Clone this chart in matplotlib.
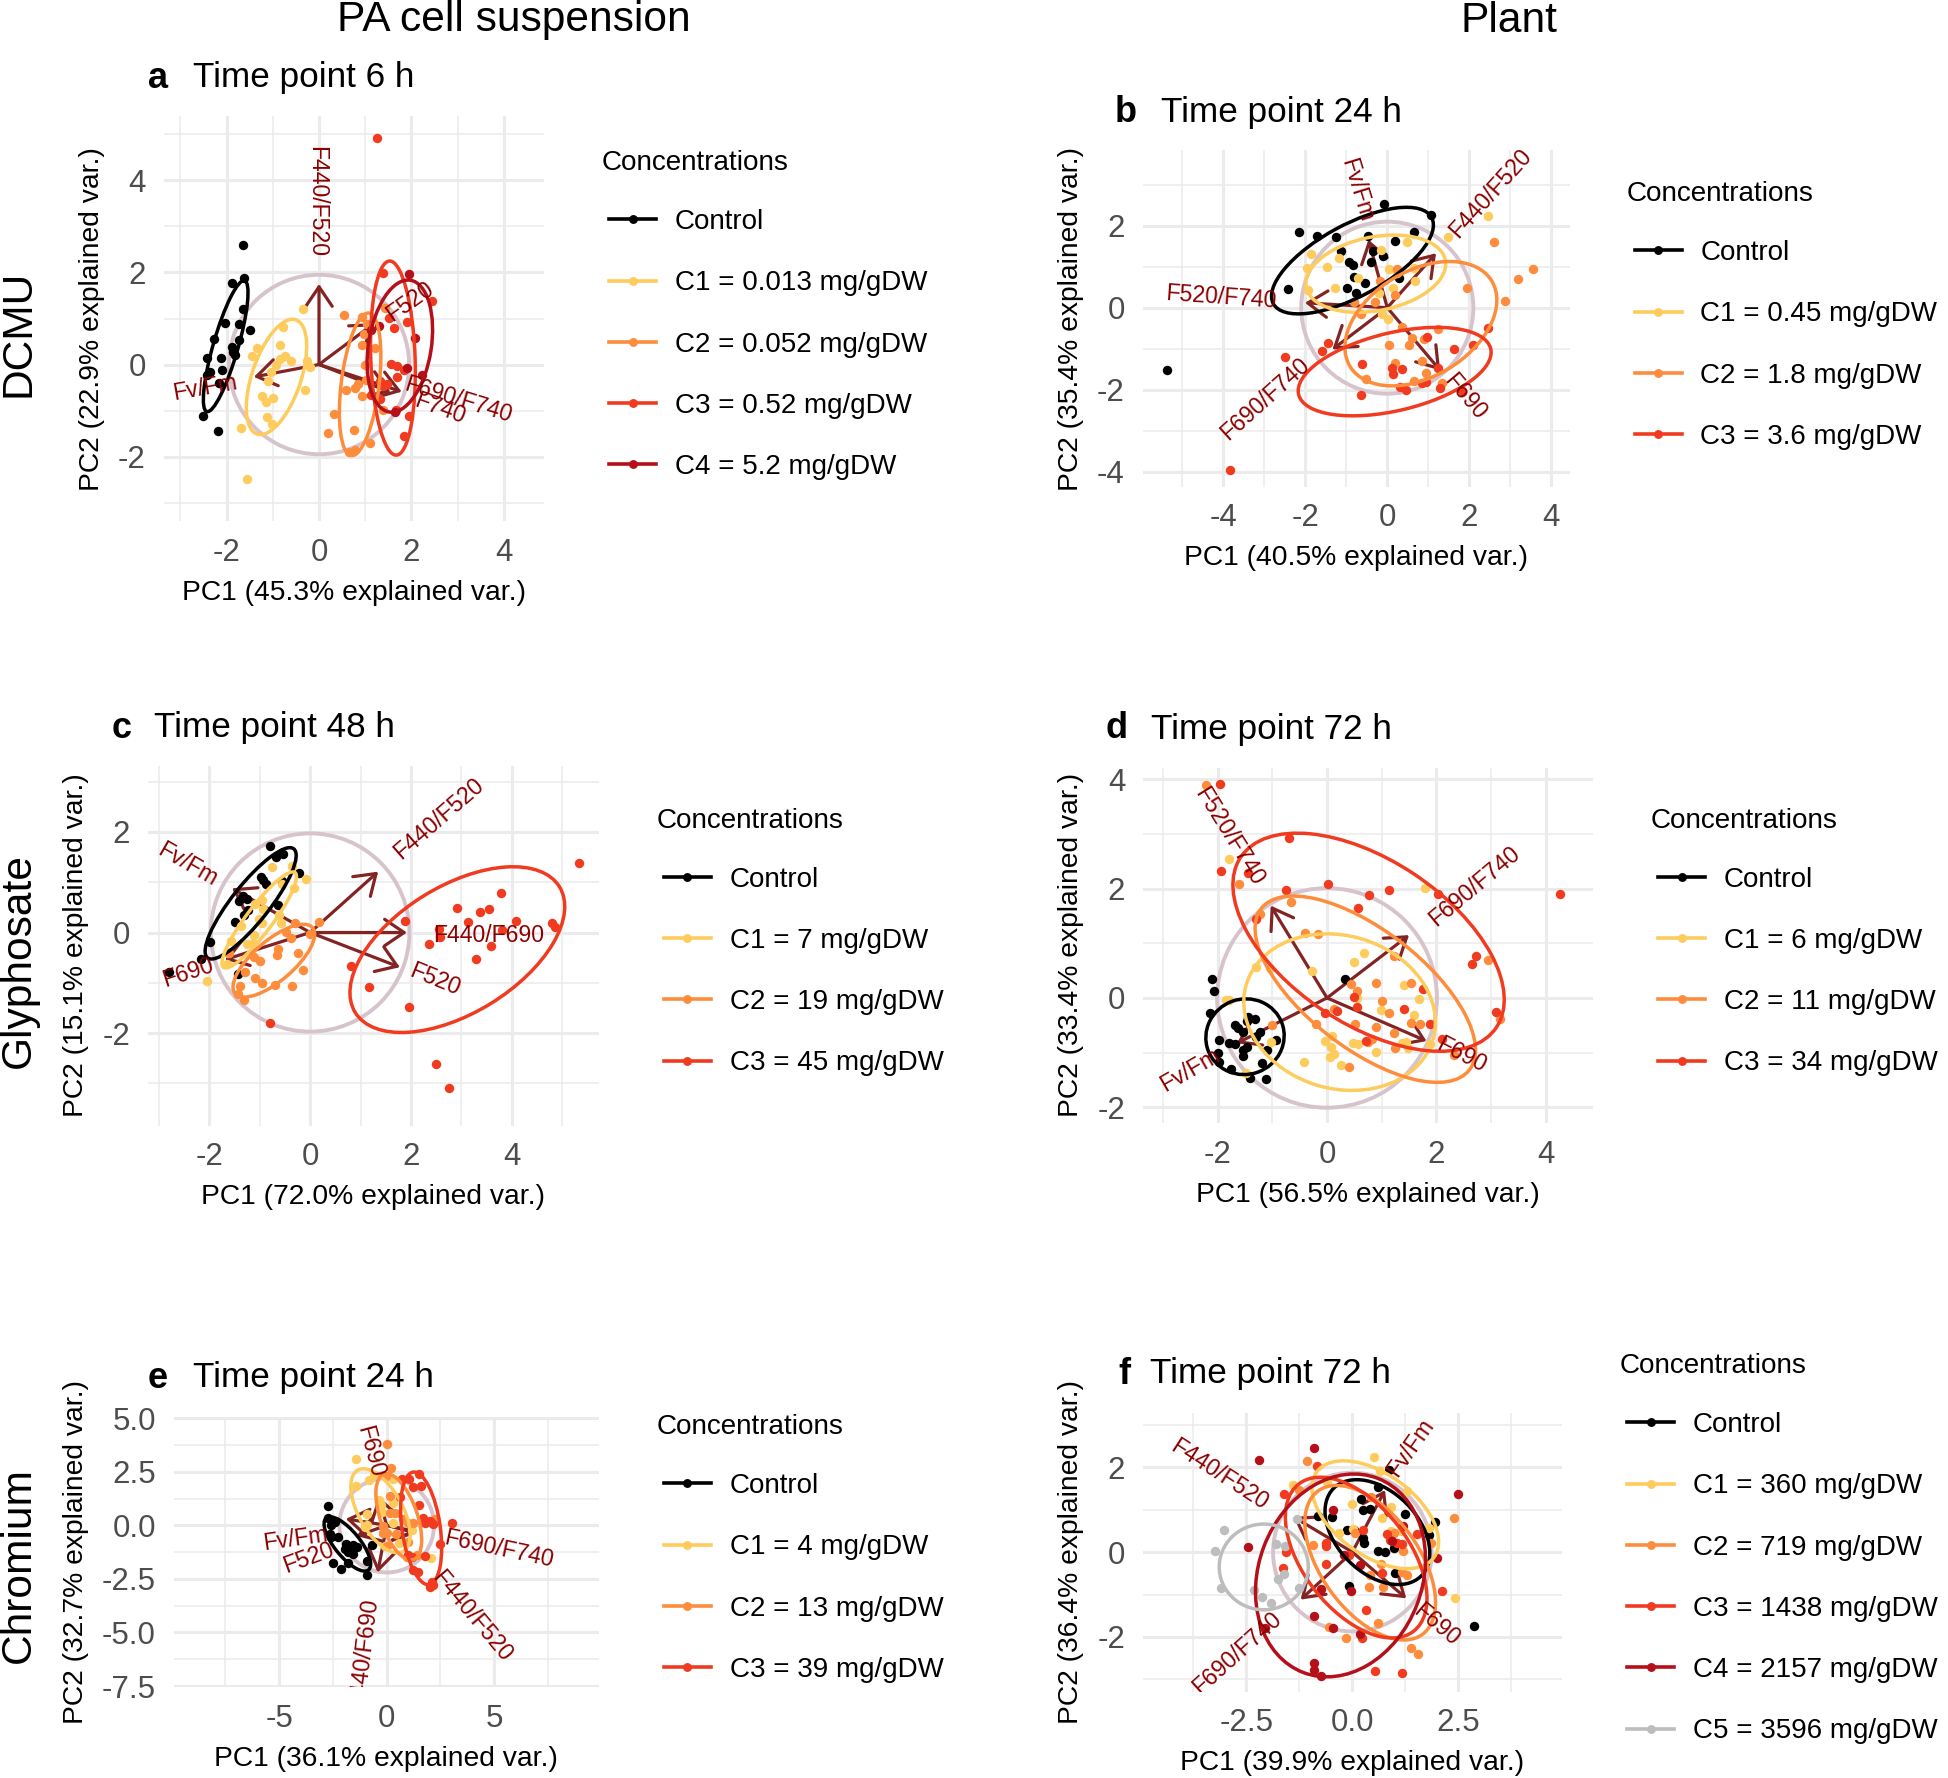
import matplotlib
matplotlib.use("Agg")
import matplotlib.pyplot as plt
from matplotlib.lines import Line2D
from matplotlib.patches import Ellipse, Circle, FancyArrowPatch
from matplotlib.transforms import Affine2D
import numpy as np

plt.rcParams['font.family'] = ['Liberation Sans', 'DejaVu Sans']
plt.rcParams['axes.unicode_minus'] = False

W, H = 1949, 1778

# group colours
BLACK = "#000000"
C1 = "#FECC5C"
C2 = "#FD8D3C"
C3 = "#F03B20"
C4 = "#B5101A"
C5 = "#BDBDBD"

# ---- panel a ----
a_ctrl = [(-1.65,2.60),(-1.62,1.87),(-1.89,1.78),(-1.64,1.20),(-2.04,0.91),(-1.74,0.87),(-1.49,0.75),(-2.27,0.56),(-1.73,0.53),(-1.89,0.37),
          (-1.86,0.28),(-1.82,0.20),(-2.43,0.14),(-2.12,0.14),(-2.09,-0.12),(-2.36,-0.16),(-2.42,-0.23),(-2.16,-0.40),(-2.52,-1.12),(-2.19,-1.45)]
a_c1 = [(-0.35,1.20),(-0.79,0.82),(-1.34,0.35),(-1.44,0.18),(-0.84,0.42),(-0.74,0.19),(-0.84,0.11),(-0.61,0.07),(-0.93,-0.01),(-1.03,-0.17),
        (-1.10,-0.36),(-1.23,-0.69),(-1.15,-0.81),(-1.00,-0.72),(-1.13,-1.14),(-1.01,-1.30),(-1.68,-1.38),(-1.56,-2.49),(-0.30,-0.55),(-0.25,0.08),(-0.19,-0.05)]
a_c2 = [(0.54,1.07),(0.92,1.03),(1.03,0.87),(0.98,0.66),(0.92,0.43),(1.21,0.35),(1.00,-0.01),(1.01,-0.33),(0.85,-0.43),(0.78,-0.52),
        (0.58,-0.56),(0.94,-0.69),(0.33,-1.08),(0.19,-1.48),(0.75,-1.43),(0.64,-1.91),(0.77,-1.86),(1.10,-1.70),(1.43,1.22),(1.39,-0.98)]
a_c3 = [(1.25,4.92),(1.39,1.99),(2.44,1.39),(1.52,1.01),(1.91,0.92),(1.62,0.80),(1.56,0.01),(1.68,-0.04),(1.84,-0.11),(1.31,-0.36),
        (1.39,-0.47),(1.48,-0.43),(1.12,-0.67),(1.32,-0.74),(1.67,-0.98),(1.94,-1.12),(1.84,-1.56),(1.68,-0.27)]
a_c4 = [(1.95,1.96),(1.29,0.84),(1.13,0.76),(2.08,0.57),(1.90,-0.07),(2.22,-0.23),(1.65,-1.03)]
a_ell = [(-2.02,0.40,1.48,0.27,74),(-0.92,-0.27,1.31,0.53,71.4),(0.89,-0.43,1.56,0.41,83),(1.60,0.14,2.11,0.48,92),(1.75,0.40,1.45,0.68,81)]
a_vars = ["F440/F520","Fv/Fm","F520","F690/F740","F740"]
a_tips = [(0,1.75),(-1.41,-0.27),(1.2,0.9),(1.79,-0.59),(1.55,-0.6)]
a_lab_xy = [(-0.06,3.54),(-2.47,-0.52),(1.97,1.36),(3.02,-0.78),(2.62,-0.96)]
a_lab_rot = [-90,10,35,-17,-20]
a_conc = ["Control","C1 = 0.013 mg/gDW","C2 = 0.052 mg/gDW","C3 = 0.52 mg/gDW","C4 = 5.2 mg/gDW"]

# ---- panel b ----
b_ctrl = [(-5.37,-1.53),(-2.15,1.85),(-1.71,1.75),(-1.25,1.72),(-0.07,2.52),(1.06,2.27),(0.65,1.85),(0.20,1.62),(-0.46,1.75),(-1.14,1.39),
          (-0.36,1.39),(-0.10,1.25),(-0.93,1.11),(-0.83,1.04),(-0.39,1.11),(-0.81,0.76),(0.29,0.72),(-0.55,0.60),(-0.99,0.48),(-0.77,0.37),(-2.43,0.46)]
b_c1 = [(2.46,2.25),(1.49,1.72),(0.47,1.61),(-0.15,1.40),(-1.85,1.31),(-1.17,1.22),(-1.95,0.98),(-1.47,1.00),(0.05,0.95),(0.65,0.96),
        (0.24,0.84),(-0.72,0.73),(0.68,0.64),(-1.28,0.48),(-1.93,0.42),(0.13,0.48),(-0.20,0.35),(-0.14,-0.16),(0.02,-0.27)]
b_c2 = [(2.61,1.61),(3.55,0.94),(3.18,0.71),(2.87,0.16),(1.95,0.49),(0.24,0.94),(-0.18,0.66),(0.18,0.32),(-0.30,0.14),(-0.81,0.15),(-0.63,-0.15),
        (0.37,-0.46),(1.23,-0.53),(0.60,-0.74),(0.90,-0.77),(0.05,-0.91),(0.52,-0.91),(0.84,-1.30),(0.18,-1.36),(0.94,-1.59),(-0.52,-1.75),(0.64,-1.79),(1.33,-1.85)]
b_c3 = [(2.46,-0.49),(2.10,-0.92),(1.64,-1.01),(0.96,-0.71),(-2.50,-1.20),(-1.44,-0.87),(-1.60,-1.05),(-0.62,-1.38),(0.11,-1.46),(0.36,-1.49),
        (0.13,-1.62),(1.23,-1.48),(0.31,-1.93),(0.46,-2.00),(0.84,-1.85),(0.94,-1.81),(1.29,-1.95),(1.82,-2.03),(-0.64,-2.14),(-3.84,-3.96)]
b_ell = [(-0.85,1.15,2.20,0.87,28.6),(-0.28,0.83,1.73,0.90,11),(0.82,-0.39,2.02,1.29,31),(0.18,-1.56,2.41,0.95,13.4)]
b_vars = ["F440/F520","Fv/Fm","F520/F740","F690/F740","F690"]
b_tips = [(1.19,1.33),(-0.46,1.66),(-2.01,0.12),(-1.34,-1.02),(1.29,-1.53)]
b_lab_xy = [(2.51,2.80),(-0.75,2.88),(-4.05,0.24),(-2.99,-2.22),(1.90,-2.18)]
b_lab_rot = [48,-73,-4,42,-50]
b_conc = ["Control","C1 = 0.45 mg/gDW","C2 = 1.8 mg/gDW","C3 = 3.6 mg/gDW"]

# ---- panel c ----
c_ctrl = [(-0.79,1.72),(-0.68,1.51),(-0.53,1.56),(-0.22,1.18),(-0.98,1.11),(-0.93,1.05),(-0.87,0.96),(-0.56,1.03),(-1.34,0.73),(-1.26,0.66),
          (-1.42,0.62),(-0.63,0.55),(-1.24,0.45),(-1.32,0.35),(-1.49,0.20),(-1.98,-0.18),(-2.16,-0.52),(-2.80,-0.79),(-1.43,-0.82)]
c_c1 = [(-0.76,1.31),(-0.36,1.33),(-0.08,1.07),(-0.56,0.96),(-0.32,0.88),(-0.95,0.65),(-1.09,0.57),(-0.93,0.47),(-1.02,0.27),(-0.96,0.19),
        (-0.61,0.35),(-0.58,0.19),(-1.37,0.12),(-1.11,-0.05),(-1.57,-0.16),(-1.26,-0.23),(-1.14,-0.20),(-1.62,-0.41),(-1.65,-0.62),(-2.04,-0.97)]
c_c2 = [(0.18,0.20),(-0.30,0.19),(-0.48,0.01),(-0.38,-0.10),(0,-0.03),(-0.63,-0.32),(-0.66,-0.44),(-0.25,-0.41),(-1.11,-0.49),(-1.00,-0.56),
        (-1.29,-0.78),(-0.15,-0.74),(-1.10,-0.91),(-0.96,-1.00),(-1.39,-1.07),(-0.69,-1.04),(-0.35,-1.07),(-1.44,-1.22),(-1.32,-1.35),(-1.61,-0.40)]
c_c3 = [(5.33,1.38),(3.79,0.78),(2.91,0.48),(3.36,0.40),(3.55,0.47),(3.14,0.21),(4.08,0.22),(4.80,0.19),(4.86,0.10),(3.80,0.05),(2.56,0.07),
        (2.58,-0.09),(1.88,0.23),(2.36,-0.23),(3.58,-0.27),(3.29,-0.52),(0.82,-0.66),(1.16,-1.09),(1.97,-1.48),(-0.80,-1.79),(2.50,-2.62),(2.76,-3.10)]
c_ell = [(-1.18,0.58,1.38,0.37,51.7),(-1.01,0.25,1.18,0.26,53),(-0.72,-0.56,1.01,0.40,40.6),(2.92,-0.34,2.38,1.26,31.7)]
c_vars = ["F440/F520","F440/F690","F520","Fv/Fm","F690"]
c_tips = [(1.35,1.21),(1.92,0),(1.78,-0.69),(-1.55,0.88),(-1.69,-0.54)]
c_lab_xy = [(2.56,2.27),(3.54,-0.05),(2.48,-0.94),(-2.43,1.35),(-2.43,-0.80)]
c_lab_rot = [41,0,-22,-30,18]
c_conc = ["Control","C1 = 7 mg/gDW","C2 = 19 mg/gDW","C3 = 45 mg/gDW"]

# ---- panel d ----
d_ctrl = [(-2.11,0.34),(-2.07,0.12),(-2.14,-0.28),(0.33,0.35),(-1.44,-0.34),(-1.31,-0.39),(-1.69,-0.49),(-1.62,-0.55),(-1.53,-0.62),(-1.47,-0.43),
          (-1.22,-0.62),(-1.30,-0.71),(-1.97,-0.77),(-1.80,-0.82),(-1.69,-0.85),(-0.93,-0.77),(-1.47,-0.90),(-1.54,-0.95),(-1.09,-0.95),(-2.00,-1.00),
          (-1.53,-1.06),(-1.98,-1.18),(-1.18,-1.20),(-1.75,-1.30),(-1.41,-1.47),(-1.11,-1.49)]
d_c1 = [(-1.80,2.55),(1.79,2.02),(-1.30,0.56),(-1.05,0.55),(-0.27,0.49),(0.49,0.66),(0.67,0.83),(-1.84,-0.04),(-1.79,-0.04),(1.41,0.23),(1.69,-0.02),
        (0.55,-0.01),(0.99,-0.22),(1.59,-0.32),(-1.03,-0.81),(-0.04,-0.79),(0.10,-0.70),(0.07,-0.89),(0.48,-0.82),(0.57,-0.84),(0.12,-1.03),(0.05,-1.09),
        (-0.42,-1.17),(0.26,-1.23),(0.89,-0.99),(1.38,-0.83),(1.45,-0.80),(1.49,-0.91),(1.88,-0.85),(-1.49,-1.37)]
d_c2 = [(-2.22,3.89),(-1.61,2.08),(-0.66,1.76),(-1.22,1.53),(-0.40,1.19),(-0.16,1.17),(1.22,0.77),(2.94,0.69),(0.44,0.26),(0.90,0.27),(1.53,0.27),
        (0.55,0.13),(1.00,-0.06),(0.12,-0.20),(1.13,-0.27),(3.17,-0.38),(-1.00,-0.49),(-0.21,-0.47),(0.51,-0.48),(0.90,-0.53),(1.53,-0.45),(1.70,-0.47),
        (1.22,-0.64),(0.83,-0.76),(0.75,-0.80),(1.25,-0.91),(2.32,-1.04),(0.41,-1.27)]
d_c3 = [(-1.95,3.92),(-1.44,2.29),(-1.94,2.32),(-0.69,2.93),(0.02,2.08),(-0.75,1.97),(0.76,1.88),(1.14,1.98),(2.03,1.90),(4.26,1.91),(0.56,1.65),
        (-1.29,1.45),(2.73,0.76),(2.65,0.62),(1.76,0.16),(0.49,0.01),(0.55,-0.16),(1.41,-0.21),(0.19,-0.24),(-0.04,-0.28),(1.88,-0.47),(3.09,-0.25),(2.11,-0.76),(0.71,-0.79)]
d_ell = [(-1.50,-0.71,0.72,0.69,20),(0.23,-0.26,1.78,1.40,-16.4),(0.70,0.16,2.41,1.08,-37.8),(0.76,1.02,2.81,1.50,-33.7)]
d_vars = ["F520/F740","F690/F740","F690","Fv/Fm"]
d_tips = [(-1.03,1.69),(1.50,1.15),(1.82,-0.79),(-1.65,-0.83)]
d_lab_xy = [(-1.80,2.96),(2.69,2.04),(2.46,-1.04),(-2.50,-1.32)]
d_lab_rot = [-58,40,-27,30]
d_conc = ["Control","C1 = 6 mg/gDW","C2 = 11 mg/gDW","C3 = 34 mg/gDW"]

# ---- panel e ----
e_ctrl = [(-2.71,0.92),(-2.73,0.33),(-2.40,0.14),(-2.60,0.02),(-2.64,-0.40),(-2.25,-0.53),(-2.59,-0.53),(-1.91,-0.87),(-1.55,-0.92),(-0.67,-0.93),
          (-1.94,-1.12),(-1.78,-1.23),(-1.40,-1.03),(-1.55,-1.35),(-0.93,-1.66),(-2.51,-1.74),(-1.78,-1.77),(-2.14,-2.04),(-0.93,-2.32)]
e_c1 = [(-1.44,3.08),(-1.43,1.84),(-0.81,2.12),(-0.59,2.35),(0.28,2.15),(-0.34,1.18),(-0.26,0.95),(-0.23,0.64),(0.28,1.03),(-0.91,0.51),(-0.93,0.02),
        (-1.01,-0.06),(0.28,0.09),(-0.08,-0.96),(0.57,-0.84),(2.05,-1.51),(1.16,-0.22)]
e_c2 = [(0.03,3.79),(0.22,2.66),(-0.03,2.30),(0.16,1.37),(0.16,0.56),(0.39,0.56),(0.74,0.28),(1.01,0.09),(1.24,0.12),(2.25,0.28),(-0.19,-0.03),
        (-0.16,-0.37),(0.03,-0.34),(0.43,-0.40),(1.01,-0.76),(0,-0.96),(1.40,-1.38),(0.93,-1.46)]
e_c3 = [(0.70,2.16),(1.05,2.16),(1.52,2.38),(1.21,1.77),(1.60,1.84),(0.62,1.34),(1.52,0.95),(1.71,0.36),(1.78,0.12),(2.02,0.22),(2.17,0.06),(3.04,0.09),
        (2.48,-0.87),(1.78,-1.42),(1.01,-1.38),(1.16,-1.46),(1.24,-2.08),(1.47,-2.16),(2.09,-2.63),(2.17,-2.78),(2.02,-2.86)]
e_ell = [(-1.83,-0.87,1.56,0.59,-51),(-0.29,0.68,2.17,1.02,-61),(0.56,0.40,2.11,0.86,-71),(1.60,-0.14,2.65,0.89,-82)]
e_vars = ["F690/F740","F440/F520","F440/F690","F690","Fv/Fm","F520"]
e_tips = [(1.4,-0.3),(1.4,-0.37),(-0.42,-2.2),(-0.39,1.34),(-1.9,0.3),(-1.4,-0.5)]
e_lab_xy = [(5.19,-1.12),(3.95,-4.26),(-1.08,-5.97),(-0.78,3.44),(-4.26,-0.64),(-3.64,-1.54)]
e_lab_rot = [-12,-50,83,-75,8,20]
e_conc = ["Control","C1 = 4 mg/gDW","C2 = 13 mg/gDW","C3 = 39 mg/gDW"]

# ---- panel f ----
f_ctrl = [(0.87,1.94),(0.60,1.54),(0.20,1.26),(0.25,0.99),(0.42,1.02),(1.23,0.90),(-0.82,0.85),(-0.49,0.83),(1.94,0.72),(-0.13,0.53),(0.04,0.52),
          (0.24,0.32),(0.28,0.22),(0.98,0.10),(0.61,0.02),(0.76,0.01),(1.80,0.40),(1.01,-0.49),(-0.09,-0.81),(2.87,-1.75)]
f_c1 = [(0.50,2.23),(0.65,1.90),(-0.59,1.64),(-1.39,1.58),(1.28,1.45),(-0.02,1.13),(0.91,1.07),(0.69,0.81),(1.81,0.57),(0.92,0.50),(1.15,0.50),
        (-0.31,0.46),(0.02,0.54),(2.42,-1.09)]
f_c2 = [(-1.08,2.15),(-1.26,1.46),(0.44,1.29),(2.39,0.80),(0.06,0.46),(0.97,0.46),(-0.94,0.17),(1.86,0.22),(1.19,0.02),(0.67,-0.28),(0.42,-0.53),
        (1.17,-0.46),(1.28,-0.53),(0.40,-0.83),(0.72,-0.83),(0.61,-1.67),(-0.55,-1.76),(-0.15,-2.02),(1.39,-2.25),(1.54,-2.39)]
f_c3 = [(-0.83,2.03),(-1.61,1.37),(0.26,0.52),(0.81,0.42),(1.52,0.43),(0.89,0.28),(1.05,0.22),(1.17,0.20),(-0.62,0.15),(-0.63,0.22),(-1.57,0.01),
        (-0.07,-0.07),(-0.62,-0.27),(-1.63,-0.37),(0.69,-0.49),(2.11,-0.92),(0.31,-1.37),(0.22,-2.02),(0.53,-2.81),(1.18,-2.85)]
f_c4 = [(-0.91,2.46),(-2.20,2.17),(2.48,1.37),(-0.46,0.99),(-2.46,0.13),(1.20,0.61),(0.93,0.27),(-0.20,-0.07),(1.99,-0.13),(0.17,-0.31),(-0.75,-0.86),
        (-0.04,-0.91),(-0.91,-1.51),(-0.46,-1.80),(-2.06,-1.80),(0.18,-1.92),(-0.91,-2.61),(-0.91,-2.77),(-0.75,-2.91)]
f_c5 = [(-1.31,0.78),(-3.02,0.51),(-1.79,0.20),(-1.59,0.15),(-3.23,0.03),(-1.61,-0.52),(-1.75,-0.63),(-3.10,-0.84),(-1.27,-0.84),(-2.33,-0.90),(-2.13,-1.07),(-1.91,-1.19)]
f_ell = [(0.59,0.47,1.46,0.96,-45),(0.54,0.88,1.71,0.96,-36),(0.42,-0.25,2.09,1.15,-54),(0.09,-0.13,2.20,1.24,-52),(-0.28,-0.55,2.45,1.93,69),(-2.09,-0.35,1.05,1.01,0)]
f_vars = ["Fv/Fm","F440/F520","F690/F740","F690"]
f_tips = [(0.77,1.46),(-1.39,0.83),(-1.22,-1.12),(1.27,-1.09)]
f_lab_xy = [(1.36,2.45),(-3.13,1.82),(-2.73,-2.39),(1.99,-1.71)]
f_lab_rot = [55,-33,42,-40]
f_conc = ["Control","C1 = 360 mg/gDW","C2 = 719 mg/gDW","C3 = 1438 mg/gDW","C4 = 2157 mg/gDW","C5 = 3596 mg/gDW"]

panels = [
    dict(box=(164, 116, 544, 521), xlim=(-3.355, 4.87), ylim=(-3.4, 5.4), xt=[-2, 0, 2, 4], yt=[-2, 0, 2, 4],
         xm=[-3, -1, 1, 3], ym=[-3, -1, 1, 3, 5], xtl=None, ytl=None, radius=1.95,
         groups=[a_ctrl, a_c1, a_c2, a_c3, a_c4], ell=a_ell, vars=a_vars, tips=a_tips, lxy=a_lab_xy, lrot=a_lab_rot, conc=a_conc,
         letter="a", title="Time point 6 h", ltx=(148, 193, 78), xl="PC1 (45.3% explained var.)", yl="PC2 (22.9% explained var.)",
         xlp=(354, 592.5), ylp=(92, 319), leg=(601.6, 163, 609, 220)),
    dict(box=(1142.7, 150, 1570, 486.7), xlim=(-5.97, 4.46), ylim=(-4.37, 3.85), xt=[-4, -2, 0, 2, 4], yt=[-4, -2, 0, 2],
         xm=[-5, -3, -1, 1, 3], ym=[-3, -1, 1, 3], xtl=None, ytl=None, radius=2.1,
         groups=[b_ctrl, b_c1, b_c2, b_c3], ell=b_ell, vars=b_vars, tips=b_tips, lxy=b_lab_xy, lrot=b_lab_rot, conc=b_conc,
         letter="b", title="Time point 24 h", ltx=(1115, 1161, 112.6), xl="PC1 (40.5% explained var.)", yl="PC2 (35.4% explained var.)",
         xlp=(1356, 558), ylp=(1071, 319), leg=(1627, 194, 1634.6, 251)),
    dict(box=(148.3, 766, 599, 1125.7), xlim=(-3.21, 5.73), ylim=(-3.84, 3.31), xt=[-2, 0, 2, 4], yt=[-2, 0, 2],
         xm=[-3, -1, 1, 3, 5], ym=[-3, -1, 1, 3], xtl=None, ytl=None, radius=1.97,
         groups=[c_ctrl, c_c1, c_c2, c_c3], ell=c_ell, vars=c_vars, tips=c_tips, lxy=c_lab_xy, lrot=c_lab_rot, conc=c_conc,
         letter="c", title="Time point 48 h", ltx=(112, 154, 728), xl="PC1 (72.0% explained var.)", yl="PC2 (15.1% explained var.)",
         xlp=(373, 1197), ylp=(76, 945), leg=(656.3, 820.5, 663.8, 877.6)),
    dict(box=(1143.3, 768, 1593.3, 1123), xlim=(-3.36, 4.87), ylim=(-2.29, 4.21), xt=[-2, 0, 2, 4], yt=[-2, 0, 2, 4],
         xm=[-3, -1, 1, 3], ym=[-1, 1, 3], xtl=None, ytl=None, radius=2.01,
         groups=[d_ctrl, d_c1, d_c2, d_c3], ell=d_ell, vars=d_vars, tips=d_tips, lxy=d_lab_xy, lrot=d_lab_rot, conc=d_conc,
         letter="d", title="Time point 72 h", ltx=(1106, 1151, 729), xl="PC1 (56.5% explained var.)", yl="PC2 (33.4% explained var.)",
         xlp=(1368, 1195.5), ylp=(1071, 945), leg=(1650.7, 820.5, 1658, 877.6)),
    dict(box=(174, 1416.7, 599, 1687.3), xlim=(-9.89, 9.87), ylim=(-7.56, 5.07), xt=[-5, 0, 5], yt=[-7.5, -5, -2.5, 0, 2.5, 5],
         xm=[-7.5, -2.5, 2.5, 7.5], ym=[-6.25, -3.75, -1.25, 1.25, 3.75], xtl=None, ytl=["-7.5", "-5.0", "-2.5", "0.0", "2.5", "5.0"], radius=2.2,
         groups=[e_ctrl, e_c1, e_c2, e_c3], ell=e_ell, vars=e_vars, tips=e_tips, lxy=e_lab_xy, lrot=e_lab_rot, conc=e_conc,
         letter="e", title="Time point 24 h", ltx=(148, 193, 1378), xl="PC1 (36.1% explained var.)", yl="PC2 (32.7% explained var.)",
         xlp=(386, 1758.5), ylp=(76, 1552), leg=(656.3, 1427, 663.8, 1484)),
    dict(box=(1143.3, 1413.3, 1562.3, 1691.7), xlim=(-4.93, 4.95), ylim=(-3.29, 3.27), xt=[-2.5, 0, 2.5], yt=[-2, 0, 2],
         xm=[-3.75, -1.25, 1.25, 3.75], ym=[-3, -1, 1, 3], xtl=["-2.5", "0.0", "2.5"], ytl=None, radius=1.87,
         groups=[f_ctrl, f_c1, f_c2, f_c3, f_c4, f_c5], ell=f_ell, vars=f_vars, tips=f_tips, lxy=f_lab_xy, lrot=f_lab_rot, conc=f_conc,
         letter="f", title="Time point 72 h", ltx=(1118, 1150, 1374), xl="PC1 (39.9% explained var.)", yl="PC2 (36.4% explained var.)",
         xlp=(1352, 1763.5), ylp=(1071, 1552), leg=(1619.6, 1366, 1627, 1423)),
]

colors = [BLACK, C1, C2, C3, C4, C5]

fig = plt.figure(figsize=(W / 100, H / 100), dpi=100)
# pixel coordinates, origin top left
px = Affine2D().scale(1 / W, -1 / H).translate(0, 1) + fig.transFigure

for p in panels:
    x0, y0, x1, y1 = p["box"]
    ax = fig.add_axes([x0 / W, 1 - y1 / H, (x1 - x0) / W, (y1 - y0) / H])
    ax.set_xlim(*p["xlim"])
    ax.set_ylim(*p["ylim"])
    for s in ax.spines.values():
        s.set_visible(False)
    ax.set_axisbelow(True)
    ax.set_xticks(p["xt"])
    ax.set_yticks(p["yt"])
    ax.set_xticks(p["xm"], minor=True)
    ax.set_yticks(p["ym"], minor=True)
    if p["xtl"]:
        ax.set_xticklabels(p["xtl"])
    else:
        ax.set_xticklabels([str(v) for v in p["xt"]])
    if p["ytl"]:
        ax.set_yticklabels(p["ytl"])
    else:
        ax.set_yticklabels([str(v) for v in p["yt"]])
    ax.grid(True, which="major", color="#EBEBEB", lw=2.2)
    ax.grid(True, which="minor", color="#EBEBEB", lw=1.1)
    ax.tick_params(which="both", length=0)
    ax.tick_params(axis="x", which="major", labelsize=22.5, labelcolor="#4D4D4D", pad=12)
    ax.tick_params(axis="y", which="major", labelsize=22.5, labelcolor="#4D4D4D", pad=13)

    ax.add_patch(Circle((0, 0), p["radius"], fill=False, ec="#D6C3CC", lw=2.8, zorder=2))
    for tip in p["tips"]:
        ax.add_patch(FancyArrowPatch((0, 0), tip, arrowstyle="->,head_length=1.4,head_width=0.95",
                                     mutation_scale=10, shrinkA=0, shrinkB=0, color="#832424", lw=2.3, zorder=3))
    for i, g in enumerate(p["groups"]):
        xs, ys = np.array(g).T
        ax.scatter(xs, ys, s=46, color=colors[i], linewidths=0, zorder=4 + i * 0.01)
    for i, e in enumerate(p["ell"]):
        ax.add_patch(Ellipse((e[0], e[1]), 2 * e[2], 2 * e[3], angle=e[4], fill=False, ec=colors[i], lw=2.5, zorder=5 + i * 0.01))
    for name, (lx, ly), rot in zip(p["vars"], p["lxy"], p["lrot"]):
        ax.text(lx, ly, name, color="#8B0000", fontsize=16.6, rotation=rot, ha="center", va="center",
                rotation_mode="anchor", clip_on=True, zorder=6)

    ax.set_xlabel(p["xl"], fontsize=20.3, color="black", va="center")
    ax.xaxis.set_label_coords(p["xlp"][0], p["xlp"][1], transform=px)
    ax.set_ylabel(p["yl"], fontsize=20.3, color="black", va="center")
    ax.yaxis.set_label_coords(p["ylp"][0], p["ylp"][1], transform=px)

    lx, tx, ty = p["ltx"]
    fig.text(lx, ty, p["letter"], transform=px, fontsize=26, fontweight="bold", ha="left", va="center")
    fig.text(tx, ty, p["title"], transform=px, fontsize=25.3, ha="left", va="center")

    tl_x, tl_y, hx, fy = p["leg"]
    fig.text(tl_x, tl_y, "Concentrations", transform=px, fontsize=20.1, ha="left", va="center")
    handles = [Line2D([], [], color=colors[i], lw=2.6, marker="o", ms=6.4, mew=0) for i in range(len(p["conc"]))]
    fig.legend(handles, p["conc"], loc="upper left", bbox_to_anchor=(hx / W, 1 - (fy - 11) / H), borderaxespad=0, borderpad=0,
               frameon=False, fontsize=20, handlelength=1.7, handletextpad=0.67, labelspacing=1.27)

# column and row titles
fig.text(513.5, 20, "PA cell suspension", transform=px, fontsize=30.6, ha="center", va="center")
fig.text(1509, 21, "Plant", transform=px, fontsize=30.6, ha="center", va="center")
fig.text(18.6, 333, "DCMU", transform=px, fontsize=30.6, rotation=90, ha="center", va="center")
fig.text(18.6, 961, "Glyphosate", transform=px, fontsize=30.6, rotation=90, ha="center", va="center")
fig.text(18.6, 1565, "Chromium", transform=px, fontsize=30.6, rotation=90, ha="center", va="center")

fig.savefig("out.png", dpi=100)
